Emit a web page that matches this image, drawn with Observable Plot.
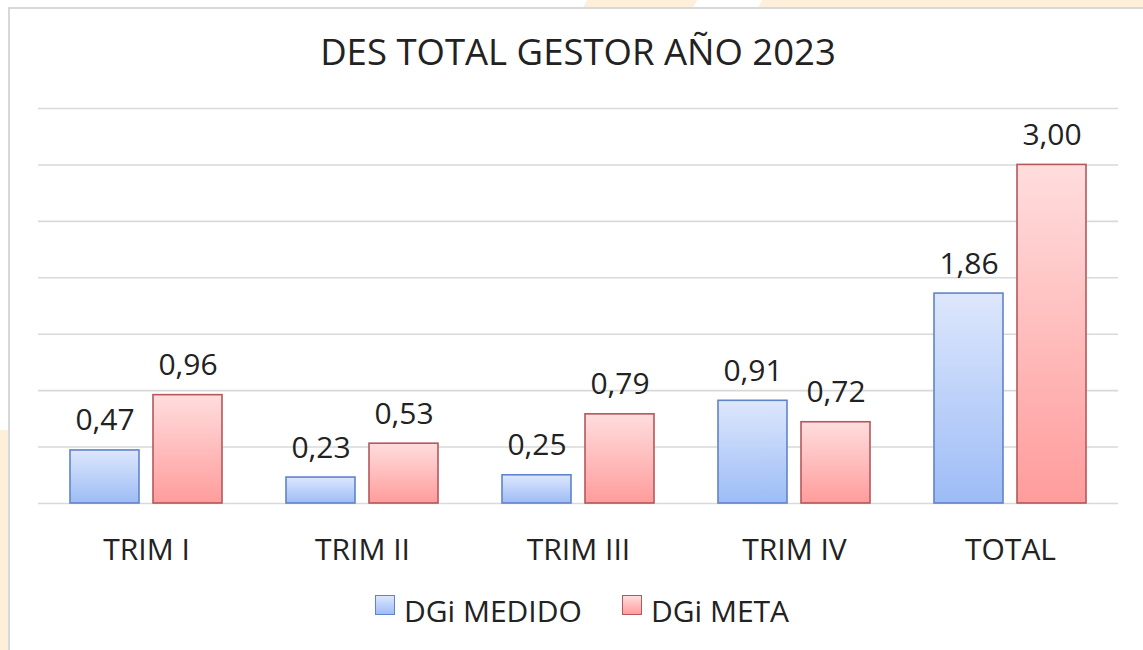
<!DOCTYPE html>
<html>
<head>
<meta charset="utf-8">
<script src="https://cdn.jsdelivr.net/npm/d3@7"></script>
<script src="https://cdn.jsdelivr.net/npm/@observablehq/plot@0.6"></script>
<style>
  html, body { margin: 0; padding: 0; }
  body { width: 1143px; height: 650px; position: relative; overflow: hidden; background: #fff; font-family: "Open Sans", sans-serif; color: #222; }
  .deco { position: absolute; background: #fdefd9; }
  #card { position: absolute; left: 8px; top: 7px; width: 1135px; height: 643px; background: #fff; border-left: 2px solid #d8d8d8; border-top: 2px solid #d8d8d8; box-sizing: border-box; }
  #title { position: absolute; left: 0; width: 1156px; top: 32px; text-align: center; font-size: 36.5px; line-height: 38px; white-space: nowrap; }
  #chart { position: absolute; left: 0; top: 80px; }
  .lg { position: absolute; font-size: 30px; line-height: 31px; white-space: nowrap; }
  .sw { position: absolute; width: 20px; height: 20px; box-sizing: border-box; }
</style>
</head>
<body>
<div class="deco" style="left:585px;top:0;width:110px;height:8px;transform:skewX(-30deg)"></div>
<div class="deco" style="left:760px;top:0;width:400px;height:8px;transform:skewX(-30deg)"></div>
<div class="deco" style="left:0;top:430px;width:8px;height:220px"></div>
<div id="card"></div>
<div id="title"></div>
<div id="chart"></div>
<div id="legend"></div>
<script>
const titleText = "DES TOTAL GESTOR AÑO 2023";
const categories = ["TRIM I", "TRIM II", "TRIM III", "TRIM IV", "TOTAL"];
const series = ["DGi MEDIDO", "DGi META"];
const medido = [0.47, 0.23, 0.25, 0.91, 1.86];
const meta = [0.96, 0.53, 0.79, 0.72, 3.00];
const yTicks = [0, 0.5, 1, 1.5, 2, 2.5, 3, 3.5];

const data = [];
categories.forEach((c, i) => {
  data.push({cat: c, s: series[0], v: medido[i]});
  data.push({cat: c, s: series[1], v: meta[i]});
});
const fmt = v => d3.format(".2f")(v).replace(".", ",");

document.getElementById("title").textContent = titleText;

const defs = () => {
  const d = d3.create("svg:defs");
  const g1 = d.append("linearGradient").attr("id", "gBlue").attr("x1", 0).attr("y1", 0).attr("x2", 0).attr("y2", 1);
  g1.append("stop").attr("offset", "0%").attr("stop-color", "#dde7fc");
  g1.append("stop").attr("offset", "100%").attr("stop-color", "#9dbcf6");
  const g2 = d.append("linearGradient").attr("id", "gRed").attr("x1", 0).attr("y1", 0).attr("x2", 0).attr("y2", 1);
  g2.append("stop").attr("offset", "0%").attr("stop-color", "#ffdddd");
  g2.append("stop").attr("offset", "100%").attr("stop-color", "#ff9c9c");
  return d.node();
};

const chart = Plot.plot({
  width: 1143,
  height: 490,
  marginLeft: 36,
  marginRight: 22.5,
  marginTop: 28,
  marginBottom: 67,
  style: {fontFamily: "Open Sans", fontSize: "30px", color: "#222", background: "transparent", overflow: "visible"},
  fx: {domain: categories, padding: 0, label: null, axis: "bottom", tickSize: 0, tickPadding: 35},
  x: {domain: series, paddingInner: 0.168, paddingOuter: 0.383, axis: null},
  y: {domain: [0, 3.5], axis: null},
  marks: [
    defs,
    Plot.ruleY(yTicks, {stroke: "#d9d9d9", strokeWidth: 1.6}),
    Plot.barY(data.filter(d => d.s === series[0]), {fx: "cat", x: "s", y: "v", fill: "url(#gBlue)", stroke: "#5f84c8", strokeWidth: 1.6}),
    Plot.barY(data.filter(d => d.s === series[1]), {fx: "cat", x: "s", y: "v", fill: "url(#gRed)", stroke: "#b5585c", strokeWidth: 1.6}),
    Plot.text(data, {fx: "cat", x: "s", y: "v", text: d => fmt(d.v), dy: -20, lineAnchor: "bottom", fill: "#222", fontSize: 30})
  ]
});
document.getElementById("chart").appendChild(chart);

const lg = document.getElementById("legend");
const items = [
  {label: series[0], sx: 375, tx: 404, bg: "linear-gradient(#dde7fc,#9dbcf6)", bd: "#5f84c8"},
  {label: series[1], sx: 622, tx: 651, bg: "linear-gradient(#ffdddd,#ff9c9c)", bd: "#b5585c"}
];
items.forEach(it => {
  const s = document.createElement("div");
  s.className = "sw";
  s.style.left = it.sx + "px"; s.style.top = "595px";
  s.style.background = it.bg; s.style.border = "1.6px solid " + it.bd;
  lg.appendChild(s);
  const t = document.createElement("div");
  t.className = "lg";
  t.style.left = it.tx + "px"; t.style.top = "595px";
  t.textContent = it.label;
  lg.appendChild(t);
});
</script>
</body>
</html>
